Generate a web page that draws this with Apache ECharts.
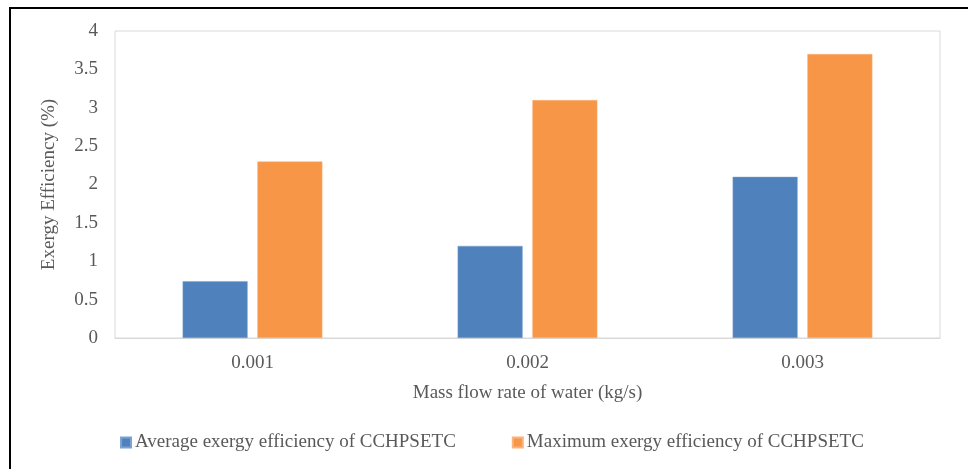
<!DOCTYPE html>
<html>
<head>
<meta charset="utf-8">
<script src="https://cdn.jsdelivr.net/npm/echarts@6/dist/echarts.min.js"></script>
<style>
  html, body { margin: 0; padding: 0; background: #fff; }
  #chart { width: 968px; height: 469px; }
</style>
</head>
<body>
<div id="chart"></div>
<script>
// Mass flow rates of water (kg/s)
const categories = ['0.001', '0.002', '0.003'];
// Exergy efficiency (%) per flow rate
const averageEfficiency = [0.74, 1.2, 2.1];
const maximumEfficiency = [2.3, 3.1, 3.7];
const seriesNames = [
  'Average exergy efficiency of CCHPSETC',
  'Maximum exergy efficiency of CCHPSETC'
];

const FONT = '"Liberation Serif", "Times New Roman", serif';
const TEXT = '#595959';

const chart = echarts.init(document.getElementById('chart'), null, { renderer: 'canvas' });

chart.setOption({
  animation: false,
  backgroundColor: '#ffffff',
  textStyle: { fontFamily: FONT, color: TEXT },
  grid: {
    left: 115, right: 28, top: 31, bottom: 131,
    show: true, borderColor: '#d9d9d9', borderWidth: 1,
    containLabel: false
  },
  legend: {
    left: 115, top: 428,
    itemWidth: 10, itemHeight: 10, itemGap: 56,
    icon: 'rect',
    textStyle: { fontFamily: FONT, fontSize: 19, color: TEXT, padding: [0, 0, 0, -1] },
    data: seriesNames
  },
  xAxis: {
    type: 'category',
    data: categories,
    name: 'Mass flow rate of water (kg/s)',
    nameLocation: 'middle',
    nameGap: 46,
    nameTextStyle: { fontFamily: FONT, fontSize: 19, color: TEXT },
    axisLine: { show: true, lineStyle: { color: '#d9d9d9', width: 1 } },
    axisTick: { show: false },
    axisLabel: { fontFamily: FONT, fontSize: 19, color: TEXT, margin: 16 }
  },
  yAxis: {
    type: 'value',
    min: 0, max: 4, interval: 0.5,
    name: 'Exergy Efficiency (%)',
    nameLocation: 'middle',
    nameGap: 56,
    nameTextStyle: { fontFamily: FONT, fontSize: 19, color: TEXT },
    axisLine: { show: false },
    axisTick: { show: false },
    splitLine: { show: false },
    axisLabel: { fontFamily: FONT, fontSize: 19, color: TEXT, margin: 17 }
  },
  series: [
    {
      name: seriesNames[0],
      type: 'bar',
      data: averageEfficiency,
      barWidth: 65,
      barGap: '15%',
      itemStyle: { color: '#4f81bd', borderColor: '#7ea2d0', borderWidth: 0.5 }
    },
    {
      name: seriesNames[1],
      type: 'bar',
      data: maximumEfficiency,
      barWidth: 65,
      barGap: '15%',
      itemStyle: { color: '#f79646', borderColor: '#fab27e', borderWidth: 0.5 }
    }
  ],
  graphic: [
    // frame around the figure: left and top edges
    { type: 'line', shape: { x1: 10, y1: 7, x2: 10, y2: 469 }, style: { stroke: '#000', lineWidth: 2 } },
    { type: 'line', shape: { x1: 9, y1: 8, x2: 968, y2: 8 }, style: { stroke: '#000', lineWidth: 2 } }
  ]
});
</script>
</body>
</html>
